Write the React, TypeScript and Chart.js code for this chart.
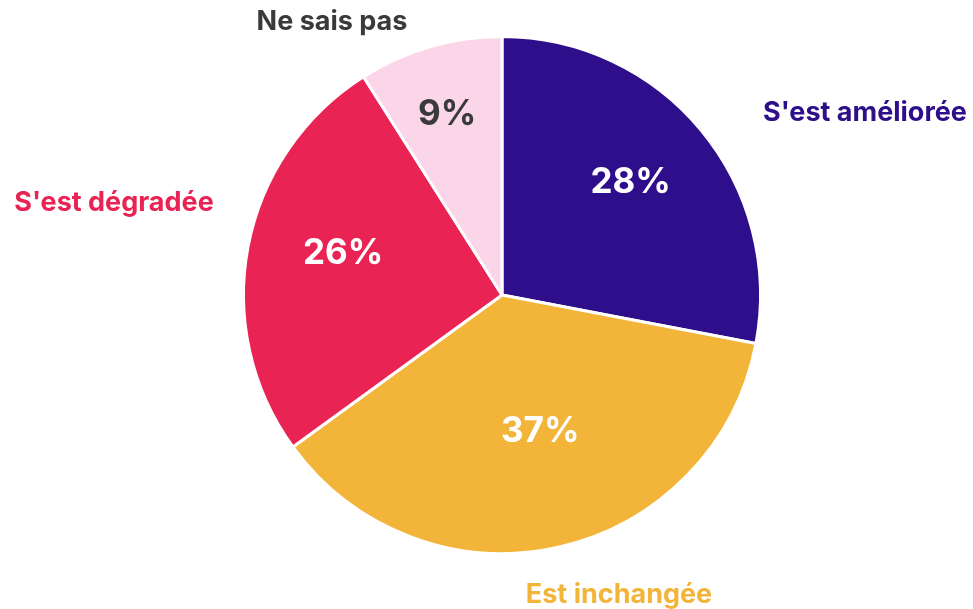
import React, { useEffect, useRef } from "react";
import { Chart, registerables } from "chart.js";

Chart.register(...registerables);

const categories = ["S'est améliorée", "Est inchangée", "S'est dégradée", "Ne sais pas"];
const values = [28, 37, 26, 9];
const percentLabels = ["28%", "37%", "26%", "9%"];

const sliceColors = ["#2E0E8A", "#F2B53A", "#E92454", "#FBD6E8"];
const categoryColors = ["#2E0E8A", "#F2B53A", "#E92454", "#3A3A3A"];
const percentColors = ["#FFFFFF", "#FFFFFF", "#FFFFFF", "#3A3A3A"];
// style: fraction of radius and angle adjustment (degrees) for inner labels
const innerRadiusFrac = [0.66, 0.55, 0.635, 0.73];
const innerAngleAdj = [-1.5, -3, 3.7, -0.7];
// style: outside label offsets from pie centre
const outerLabelPos = [
  { dx: 363, dy: -182 },
  { dx: 117, dy: 300 },
  { dx: -388, dy: -92 },
  { dx: -170, dy: -273 },
];

const FONT = "Inter, 'Open Sans', 'Liberation Sans', sans-serif";

const labelPlugin = {
  id: "sliceLabels",
  afterDatasetsDraw(chart: any) {
    const ctx = chart.ctx;
    const meta = chart.getDatasetMeta(0);
    ctx.save();
    ctx.textAlign = "center";
    ctx.textBaseline = "middle";
    meta.data.forEach((arc: any, i: number) => {
      const { x, y, outerRadius, startAngle, endAngle } = arc.getProps(
        ["x", "y", "outerRadius", "startAngle", "endAngle"],
        true
      );
      const mid = (startAngle + endAngle) / 2 + (innerAngleAdj[i] * Math.PI) / 180;
      const r = outerRadius * innerRadiusFrac[i];
      ctx.font = `bold 35px ${FONT}`;
      ctx.fillStyle = percentColors[i];
      ctx.fillText(percentLabels[i], x + Math.cos(mid) * r, y + Math.sin(mid) * r);
      ctx.font = `bold 27px ${FONT}`;
      ctx.fillStyle = categoryColors[i];
      ctx.fillText(categories[i], x + outerLabelPos[i].dx, y + outerLabelPos[i].dy);
    });
    ctx.restore();
  },
};

export default function App() {
  const ref = useRef<HTMLCanvasElement | null>(null);
  useEffect(() => {
    document.body.style.margin = "0";
    const canvas = ref.current;
    if (!canvas) return;
    const chart = new Chart(canvas, {
      type: "pie",
      data: {
        labels: categories,
        datasets: [
          {
            data: values,
            backgroundColor: sliceColors,
            borderColor: "#FFFFFF",
            borderWidth: 3,
          },
        ],
      },
      options: {
        responsive: false,
        animation: false,
        layout: { padding: { top: 35, bottom: 54, left: 242, right: 211 } },
        plugins: {
          legend: { display: false },
          tooltip: { enabled: false },
        },
      },
      plugins: [labelPlugin],
    });
    return () => chart.destroy();
  }, []);
  return (
    <div style={{ width: 973, height: 609, background: "#FFFFFF" }}>
      <canvas ref={ref} width={973} height={609} style={{ display: "block" }} />
    </div>
  );
}
